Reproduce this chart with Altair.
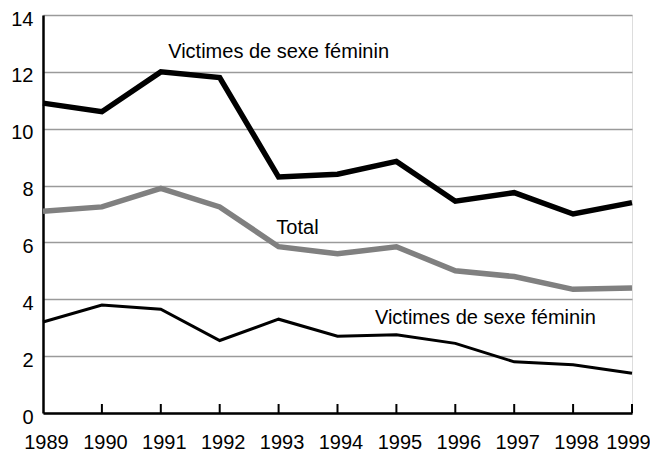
import altair as alt
import pandas as pd

years = [1989, 1990, 1991, 1992, 1993, 1994, 1995, 1996, 1997, 1998, 1999]
femmes_haut = [10.9, 10.6, 12.0, 11.8, 8.3, 8.4, 8.85, 7.45, 7.75, 7.0, 7.4]
total = [7.1, 7.25, 7.9, 7.25, 5.85, 5.6, 5.85, 5.0, 4.8, 4.35, 4.4]
femmes_bas = [3.2, 3.8, 3.65, 2.55, 3.3, 2.7, 2.75, 2.45, 1.8, 1.7, 1.4]

series_names = ["haut", "total", "bas"]
label_texts = ["Victimes de sexe féminin", "Total", "Victimes de sexe féminin"]
label_x = [1993.0, 1993.32, 1996.51]
label_y = [12.7, 6.5, 3.34]

rows = []
for name, vals in zip(series_names, [femmes_haut, total, femmes_bas]):
    for yr, v in zip(years, vals):
        rows.append({"year": yr, "value": v, "series": name})
df = pd.DataFrame(rows)
labels_df = pd.DataFrame({"x": label_x, "y": label_y, "text": label_texts})
ticks_df = pd.DataFrame({"year": years[1:]})

W, H = 589, 398
FONT = "Liberation Sans"

xs = alt.Scale(domain=[1989, 1999], nice=False, zero=False)
ys = alt.Scale(domain=[0, 14], nice=False)

base = alt.Chart(df).encode(
    x=alt.X("year:Q", scale=xs, axis=alt.Axis(
        values=years, format="d", title=None, ticks=False, grid=False,
        labelOverlap=False, labelFlush=False, labelBound=False,
        labelFontSize=20, labelFont=FONT, labelColor="black", labelPadding=19,
        labelOffset={"condition": {"test": "datum.value == 1999", "value": -4}, "value": 3},
        domainColor="black", domainWidth=2.5)),
    y=alt.Y("value:Q", scale=ys, axis=alt.Axis(
        values=[0, 2, 4, 6, 8, 10, 12, 14], title=None, ticks=False,
        labelOverlap=False, labelFlush=False, labelBound=False,
        grid=True, gridColor="#9a9a9a", gridWidth=1.5,
        labelFontSize=20, labelFont=FONT, labelColor="black", labelPadding=10,
        labelOffset=4, domainColor="black", domainWidth=2.5)),
)

l_haut = base.transform_filter(alt.datum.series == "haut").mark_line(
    color="black", strokeWidth=5.5, strokeJoin="miter")
l_total = base.transform_filter(alt.datum.series == "total").mark_line(
    color="#808080", strokeWidth=5.5, strokeJoin="miter")
l_bas = base.transform_filter(alt.datum.series == "bas").mark_line(
    color="black", strokeWidth=3, strokeJoin="miter")

tick_rules = alt.Chart(ticks_df).mark_rule(color="black", strokeWidth=2).encode(
    x=alt.X("year:Q", scale=xs), y=alt.value(H), y2=alt.value(H - 9))

texts = alt.Chart(labels_df).mark_text(
    font=FONT, fontSize=20, color="black", align="center", baseline="middle"
).encode(x=alt.X("x:Q", scale=xs), y=alt.Y("y:Q", scale=ys), text="text:N")

chart = alt.layer(l_haut, l_total, l_bas, tick_rules, texts).properties(
    width=W, height=H,
    autosize=alt.AutoSizeParams(type="none"),
    padding={"left": 35, "top": 7, "right": 18, "bottom": 40},
).configure_view(stroke="black", strokeWidth=1.5).configure(background="white")

chart.save("out.html", embed_options={"renderer": "svg", "actions": False})
